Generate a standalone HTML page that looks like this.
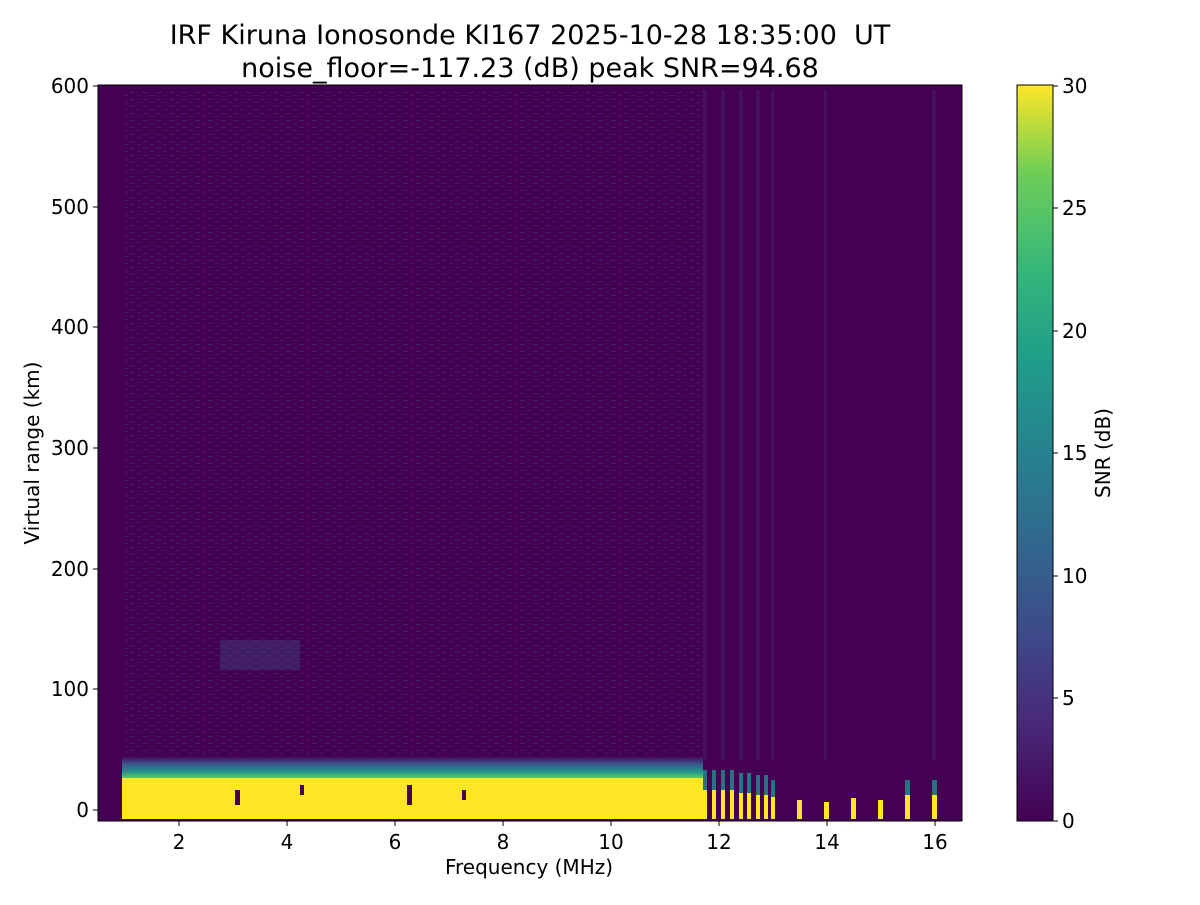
<!DOCTYPE html>
<html><head><meta charset="utf-8"><style>
body{margin:0;background:#fff;}
svg text{font-family:"DejaVu Sans","Liberation Sans",sans-serif;fill:#000;}
</style></head><body>
<svg width="1200" height="900" xmlns="http://www.w3.org/2000/svg">
<defs>
<linearGradient id="cb" x1="0" y1="1" x2="0" y2="0">
<stop offset="0" stop-color="#440154"/><stop offset="0.13" stop-color="#482878"/>
<stop offset="0.25" stop-color="#3e4989"/><stop offset="0.38" stop-color="#31688e"/>
<stop offset="0.5" stop-color="#26828e"/><stop offset="0.63" stop-color="#1f9e89"/>
<stop offset="0.75" stop-color="#35b779"/><stop offset="0.88" stop-color="#6ece58"/>
<stop offset="1" stop-color="#fde725"/></linearGradient>
<linearGradient id="band" x1="0" y1="0" x2="0" y2="1">
<stop offset="0" stop-color="#440154"/><stop offset="0.35" stop-color="#3b528b"/>
<stop offset="0.7" stop-color="#21918c"/><stop offset="1" stop-color="#5ec962"/></linearGradient>
<pattern id="noise" width="13" height="7" patternUnits="userSpaceOnUse">
<rect width="13" height="7" fill="#440154"/>
<rect x="0" y="1" width="5" height="1" fill="#472d7b" opacity="0.6"/>
<rect x="7" y="4" width="4" height="1" fill="#46327e" opacity="0.5"/>
</pattern>
</defs>
<text x="530" y="44" font-size="27" text-anchor="middle">IRF Kiruna Ionosonde KI167 2025-10-28 18:35:00&#160; UT</text>
<text x="530" y="77" font-size="27" text-anchor="middle">noise_floor=-117.23 (dB) peak SNR=94.68</text>
<rect x="98" y="85" width="864" height="736" fill="#440154"/>
<rect x="122" y="90" width="581" height="670" fill="url(#noise)"/>
<rect x="220" y="640" width="80" height="30" fill="#3b528b" opacity="0.35"/>
<rect x="122" y="756" width="581" height="22" fill="url(#band)"/>
<rect x="122" y="778" width="581" height="41" fill="#fde725"/>
<g fill="#440154">
<rect x="235" y="790" width="5" height="15"/><rect x="407" y="785" width="5" height="20"/>
<rect x="300" y="785" width="4" height="10"/><rect x="462" y="790" width="4" height="10"/>
</g>
<g fill="#fde725">
<rect x="703" y="790" width="4" height="29"/><rect x="712" y="790" width="4" height="29"/>
<rect x="721" y="790" width="4" height="29"/><rect x="730" y="790" width="4" height="29"/>
<rect x="739" y="793" width="4" height="26"/><rect x="747" y="793" width="4" height="26"/>
<rect x="756" y="795" width="4" height="24"/><rect x="764" y="795" width="4" height="24"/>
<rect x="771" y="797" width="4" height="22"/><rect x="797" y="800" width="5" height="19"/>
<rect x="824" y="802" width="5" height="17"/><rect x="851" y="798" width="5" height="21"/>
<rect x="878" y="800" width="5" height="19"/><rect x="905" y="795" width="5" height="24"/>
<rect x="932" y="795" width="5" height="24"/>
</g>
<g fill="#21918c" opacity="0.8">
<rect x="703" y="770" width="4" height="20"/><rect x="712" y="770" width="4" height="20"/>
<rect x="721" y="770" width="4" height="20"/><rect x="730" y="770" width="4" height="20"/>
<rect x="739" y="773" width="4" height="20"/><rect x="747" y="773" width="4" height="20"/>
<rect x="756" y="775" width="4" height="20"/><rect x="764" y="775" width="4" height="20"/>
<rect x="771" y="780" width="4" height="17"/><rect x="932" y="780" width="5" height="15"/>
<rect x="905" y="780" width="5" height="15"/>
</g>
<g fill="#472d7b" opacity="0.35">
<rect x="703" y="90" width="4" height="670"/><rect x="721" y="90" width="4" height="670"/>
<rect x="739" y="90" width="4" height="670"/><rect x="756" y="90" width="4" height="670"/>
<rect x="771" y="90" width="3" height="670"/><rect x="824" y="90" width="3" height="670"/>
<rect x="932" y="90" width="4" height="670"/>
</g>
<rect x="98" y="85" width="864" height="736" fill="none" stroke="#000" stroke-width="1"/>
<g stroke="#000">
<line x1="179" y1="821" x2="179" y2="826"/><line x1="287" y1="821" x2="287" y2="826"/>
<line x1="395" y1="821" x2="395" y2="826"/><line x1="503" y1="821" x2="503" y2="826"/>
<line x1="611" y1="821" x2="611" y2="826"/><line x1="719" y1="821" x2="719" y2="826"/>
<line x1="827" y1="821" x2="827" y2="826"/><line x1="935" y1="821" x2="935" y2="826"/>
<line x1="93" y1="86" x2="98" y2="86"/><line x1="93" y1="207" x2="98" y2="207"/>
<line x1="93" y1="327" x2="98" y2="327"/><line x1="93" y1="448" x2="98" y2="448"/>
<line x1="93" y1="569" x2="98" y2="569"/><line x1="93" y1="689" x2="98" y2="689"/>
<line x1="93" y1="810" x2="98" y2="810"/>
</g>
<g font-size="20" text-anchor="middle">
<text x="179" y="849">2</text><text x="287" y="849">4</text><text x="395" y="849">6</text>
<text x="503" y="849">8</text><text x="611" y="849">10</text><text x="719" y="849">12</text>
<text x="827" y="849">14</text><text x="935" y="849">16</text>
</g>
<g font-size="20" text-anchor="end">
<text x="89" y="93">600</text><text x="89" y="214">500</text><text x="89" y="334">400</text>
<text x="89" y="455">300</text><text x="89" y="576">200</text><text x="89" y="696">100</text>
<text x="89" y="817">0</text>
</g>
<text x="529" y="874" font-size="20" text-anchor="middle">Frequency (MHz)</text>
<text transform="translate(39,453) rotate(-90)" font-size="20" text-anchor="middle">Virtual range (km)</text>
<rect x="1017" y="85" width="36" height="736" fill="url(#cb)" stroke="#000" stroke-width="1"/>
<g stroke="#000">
<line x1="1053" y1="86" x2="1058" y2="86"/><line x1="1053" y1="208" x2="1058" y2="208"/>
<line x1="1053" y1="331" x2="1058" y2="331"/><line x1="1053" y1="453" x2="1058" y2="453"/>
<line x1="1053" y1="576" x2="1058" y2="576"/><line x1="1053" y1="698" x2="1058" y2="698"/>
<line x1="1053" y1="821" x2="1058" y2="821"/>
</g>
<g font-size="20">
<text x="1062" y="93">30</text><text x="1062" y="215">25</text><text x="1062" y="338">20</text>
<text x="1062" y="460">15</text><text x="1062" y="583">10</text><text x="1062" y="705">5</text>
<text x="1062" y="828">0</text>
</g>
<text transform="translate(1110,453) rotate(-90)" font-size="20" text-anchor="middle">SNR (dB)</text>
</svg>
</body></html>
